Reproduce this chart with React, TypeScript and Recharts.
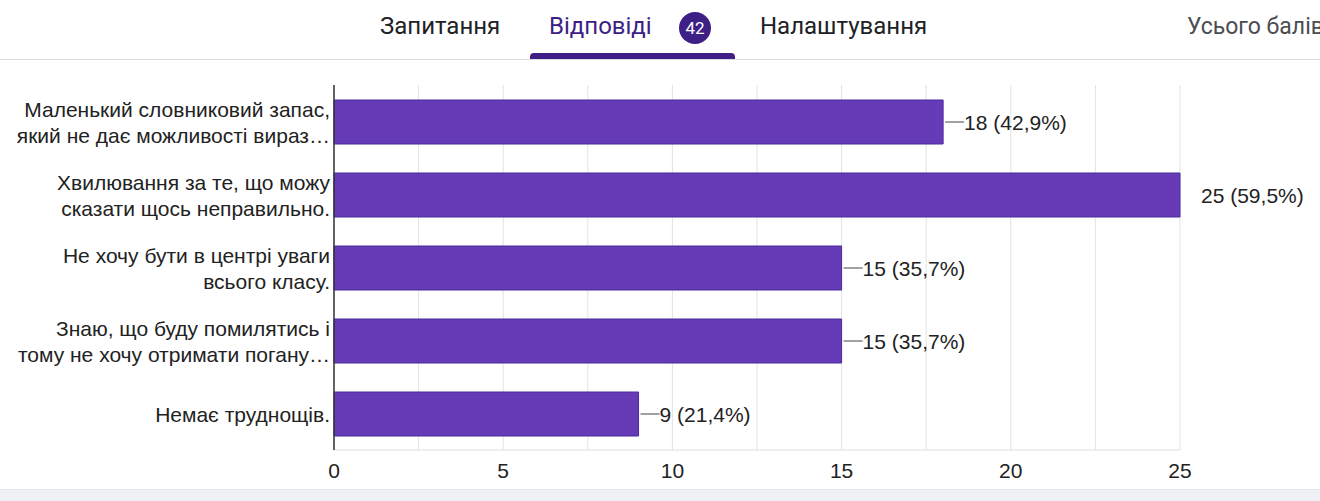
import { BarChart, Bar, XAxis, YAxis, CartesianGrid, LabelList } from "recharts";

const categories = [
  "Маленький словниковий запас,\nякий не дає можливості вираз…",
  "Хвилювання за те, що можу\nсказати щось неправильно.",
  "Не хочу бути в центрі уваги\nвсього класу.",
  "Знаю, що буду помилятись і\nтому не хочу отримати погану…",
  "Немає труднощів.",
];
const counts = [18, 25, 15, 15, 9];
const totalResponses = 42;
const gridTicks = [0, 2.5, 5, 7.5, 10, 12.5, 15, 17.5, 20, 22.5, 25];

const data = categories.map((name, i) => ({ name, value: counts[i] }));
const maxCount = Math.max(...counts);

const FONT = "'Liberation Sans', Arial, sans-serif";
const TAB_FONT = "Roboto, 'Noto Sans', sans-serif";
const PURPLE = "#673ab7";
const DARK_PURPLE = "#3d1f86";

const CategoryTick = (props: any) => {
  const { x, y, payload } = props;
  const lines: string[] = String(payload.value).split("\n");
  const lh = 26;
  const startY = y - ((lines.length - 1) * lh) / 2;
  return (
    <text
      x={x + 4}
      y={startY}
      textAnchor="end"
      dominantBaseline="central"
      fontFamily={FONT}
      fontSize={21}
      fill="#222"
    >
      {lines.map((l, i) => (
        <tspan key={i} x={x + 4} y={startY + i * lh}>
          {l}
        </tspan>
      ))}
    </text>
  );
};

const ValueTick = (props: any) => {
  const { x, y, payload } = props;
  if (payload.value % 5 !== 0) return <g />;
  return (
    <text
      x={x}
      y={y + 12}
      textAnchor="middle"
      dominantBaseline="central"
      fontFamily={FONT}
      fontSize={21}
      fill="#222"
    >
      {payload.value}
    </text>
  );
};

const ValueLabel = (props: any) => {
  const { x, y, width, height, value } = props;
  const end = x + width;
  const cy = y + height / 2;
  const pct = ((value / totalResponses) * 100).toFixed(1).replace(".", ",");
  return (
    <g>
      {value !== maxCount && (
        <line x1={end + 2} x2={end + 21} y1={cy} y2={cy} stroke="#444" strokeWidth={1} />
      )}
      <text
        x={end + 21}
        y={cy}
        dominantBaseline="central"
        fontFamily={FONT}
        fontSize={21}
        fill="#222"
      >
        {`${value} (${pct}%)`}
      </text>
    </g>
  );
};

export default function App() {
  return (
    <div
      style={{
        position: "absolute",
        left: 0,
        top: 0,
        width: 1320,
        height: 501,
        background: "#fff",
        overflow: "hidden",
      }}
    >
      <BarChart
        width={1320}
        height={501}
        data={data}
        layout="vertical"
        margin={{ top: 85, right: 140, bottom: 21, left: 8 }}
        barCategoryGap={14}
      >
        <CartesianGrid horizontal={false} stroke="#e3e3e3" />
        <XAxis
          type="number"
          domain={[0, 25]}
          ticks={gridTicks}
          interval={0}
          tick={<ValueTick />}
          tickLine={false}
          axisLine={{ stroke: "#e0e0e0" }}
          height={30}
        />
        <YAxis
          type="category"
          dataKey="name"
          width={326}
          tick={<CategoryTick />}
          tickLine={false}
          axisLine={{ stroke: "#333", strokeWidth: 1.5 }}
        />
        <Bar
          dataKey="value"
          fill={PURPLE}
          stroke="#4a2a9c"
          strokeWidth={1}
          barSize={44}
          isAnimationActive={false}
        >
          <LabelList dataKey="value" content={<ValueLabel />} />
        </Bar>
      </BarChart>

      {/* header tabs */}
      <div style={{ position: "absolute", left: 0, top: 59, width: 1320, height: 1, background: "#dadce0" }} />
      <div
        style={{
          position: "absolute",
          left: 530,
          top: 53,
          width: 205,
          height: 6,
          background: DARK_PURPLE,
          borderRadius: "4px 4px 0 0",
        }}
      />
      <div style={{ position: "absolute", left: 380, top: 12, fontFamily: TAB_FONT, fontSize: 24, color: "#202124" }}>
        Запитання
      </div>
      <div style={{ position: "absolute", left: 549, top: 12, fontFamily: TAB_FONT, fontSize: 24, color: DARK_PURPLE }}>
        Відповіді
      </div>
      <div
        style={{
          position: "absolute",
          left: 679,
          top: 12,
          width: 32,
          height: 32,
          borderRadius: 16,
          background: DARK_PURPLE,
          color: "#fff",
          fontFamily: TAB_FONT,
          fontSize: 17,
          lineHeight: "32px",
          textAlign: "center",
        }}
      >
        {totalResponses}
      </div>
      <div style={{ position: "absolute", left: 760, top: 12, fontFamily: TAB_FONT, fontSize: 24, color: "#202124" }}>
        Налаштування
      </div>
      <div
        style={{
          position: "absolute",
          left: 1187,
          top: 13,
          fontFamily: TAB_FONT,
          fontSize: 23,
          color: "#4a4d52",
          whiteSpace: "nowrap",
        }}
      >
        Усього балів
      </div>

      {/* bottom strip */}
      <div
        style={{
          position: "absolute",
          left: 0,
          top: 489,
          width: 1320,
          height: 12,
          background: "#eff0f6",
          borderTop: "1px solid #e6e7ee",
        }}
      />
    </div>
  );
}
